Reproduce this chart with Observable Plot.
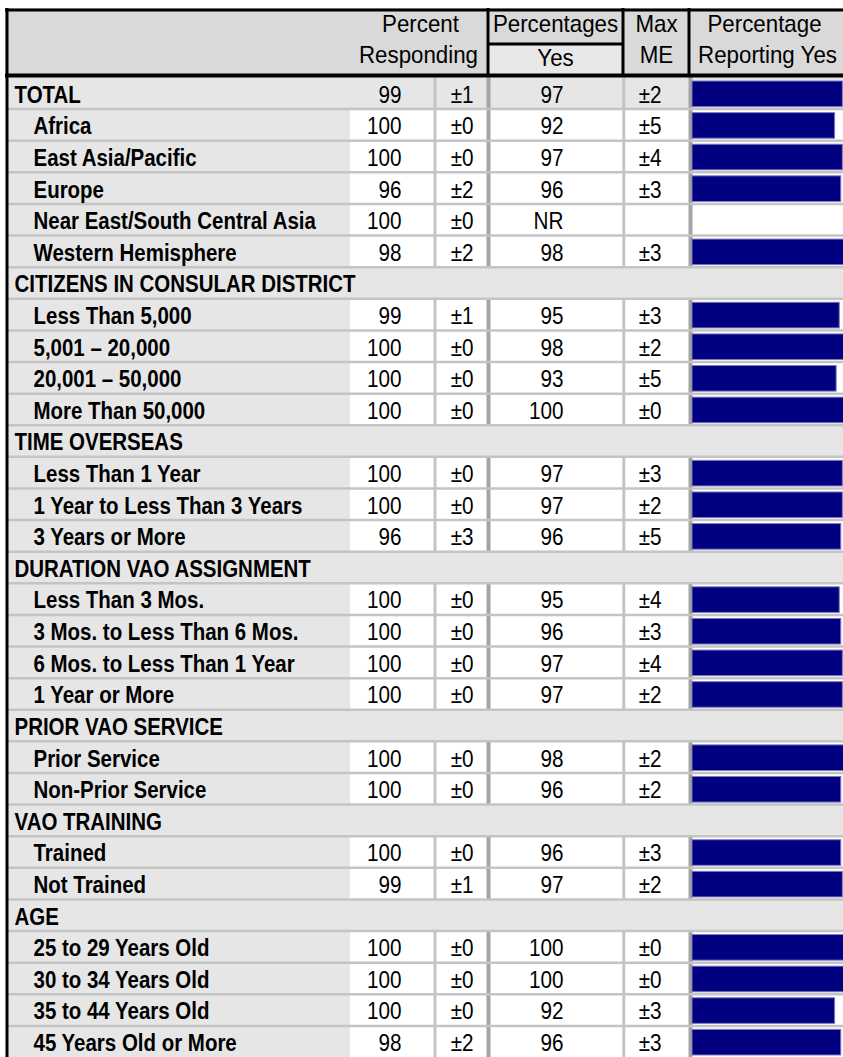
<!DOCTYPE html>
<html>
<head>
<meta charset="utf-8">
<script src="https://cdn.jsdelivr.net/npm/d3@7"></script>
<script src="https://cdn.jsdelivr.net/npm/@observablehq/plot@0.6"></script>
<style>
  html, body { margin: 0; padding: 0; background: #fff; overflow: hidden; }
  #chart svg { display: block; }
</style>
</head>
<body>
<div id="chart"></div>
<script>
// ---------- data ----------
const labels = [
  "TOTAL", "Africa", "East Asia/Pacific", "Europe", "Near East/South Central Asia", "Western Hemisphere",
  "CITIZENS IN CONSULAR DISTRICT", "Less Than 5,000", "5,001 – 20,000", "20,001 – 50,000", "More Than 50,000",
  "TIME OVERSEAS", "Less Than 1 Year", "1 Year to Less Than 3 Years", "3 Years or More",
  "DURATION VAO ASSIGNMENT", "Less Than 3 Mos.", "3 Mos. to Less Than 6 Mos.", "6 Mos. to Less Than 1 Year", "1 Year or More",
  "PRIOR VAO SERVICE", "Prior Service", "Non-Prior Service",
  "VAO TRAINING", "Trained", "Not Trained",
  "AGE", "25 to 29 Years Old", "30 to 34 Years Old", "35 to 44 Years Old", "45 Years Old or More"
];
const rowTypes = [
  "total", "item", "item", "item", "item", "item",
  "section", "item", "item", "item", "item",
  "section", "item", "item", "item",
  "section", "item", "item", "item", "item",
  "section", "item", "item",
  "section", "item", "item",
  "section", "item", "item", "item", "item"
];
const percentResponding = [99, 100, 100, 96, 100, 98, null, 99, 100, 100, 100, null, 100, 100, 96, null, 100, 100, 100, 100, null, 100, 100, null, 100, 99, null, 100, 100, 100, 98];
const respondingME      = [1, 0, 0, 2, 0, 2, null, 1, 0, 0, 0, null, 0, 0, 3, null, 0, 0, 0, 0, null, 0, 0, null, 0, 1, null, 0, 0, 0, 2];
const percentYes        = [97, 92, 97, 96, null, 98, null, 95, 98, 93, 100, null, 97, 97, 96, null, 95, 96, 97, 97, null, 98, 96, null, 96, 97, null, 100, 100, 92, 96];
const yesME             = [2, 5, 4, 3, null, 3, null, 3, 2, 5, 0, null, 3, 2, 5, null, 4, 3, 4, 2, null, 2, 2, null, 3, 2, null, 0, 0, 3, 3];
const notReported = "NR";
const headerTexts = [
  ["Percent", "Responding"],
  ["Percentages", "Yes"],
  ["Max", "ME"],
  ["Percentage", "Reporting Yes"]
];

const rows = labels.map((label, i) => ({
  i, label, type: rowTypes[i],
  resp: percentResponding[i], respME: respondingME[i],
  yes: percentYes[i], yesME: yesME[i]
}));

// ---------- layout helpers (pixel layout -> scale units) ----------
const W = 843, H = 1057;
const X0 = 692, XK = 1.55;          // bar axis: 0% at X0, XK px per %
const Y0 = 77, RH = (H - Y0) / rows.length;
const px = p => (p - X0) / XK;
const py = p => (p - Y0) / RH;

const FONT = "'Liberation Sans', Arial, Helvetica, sans-serif";
const items = rows.filter(d => d.type !== "section");
const y2 = d => d.i + 1;
const yc = d => d.i + 0.5;

const hdr = [
  {t: headerTexts[0][0], x: 420, y: 24}, {t: headerTexts[0][1], x: 418, y: 55},
  {t: headerTexts[1][0], x: 555, y: 24}, {t: headerTexts[1][1], x: 555, y: 58},
  {t: headerTexts[2][0], x: 656, y: 24}, {t: headerTexts[2][1], x: 656, y: 55},
  {t: headerTexts[3][0], x: 764, y: 24}, {t: headerTexts[3][1], x: 767, y: 55}
];

const chart = Plot.plot({
  width: W, height: H, margin: 0,
  x: {type: "linear", domain: [0, 100], range: [X0, X0 + 100 * XK], axis: null},
  y: {type: "linear", domain: [0, rows.length], range: [Y0, H], axis: null},
  style: {fontFamily: FONT, fontSize: "23px", background: "#fff", color: "#000"},
  marks: [
    // header backgrounds
    Plot.rect([0], {x1: px(5), x2: px(W), y1: py(8), y2: py(Y0), fill: "#d9d9d9"}),
    Plot.rect([0], {x1: px(489), x2: px(621), y1: py(44), y2: py(74), fill: "#e8e8e8"}),
    // body backgrounds
    Plot.rect([0], {x1: px(8), x2: px(350), y1: 0, y2: rows.length, fill: "#e6e6e6"}),
    Plot.rect(rows.filter(d => d.type !== "item"), {x1: px(350), x2: px(W), y1: "i", y2, fill: "#e6e6e6"}),
    // vertical cell separators
    Plot.ruleX(items, {x: px(434.5), y1: "i", y2, stroke: "#c4c4c4", strokeWidth: 3}),
    Plot.ruleX(items, {x: px(488), y1: "i", y2, stroke: "#a4a4a4", strokeWidth: 4}),
    Plot.ruleX(items, {x: px(623.3), y1: "i", y2, stroke: "#c4c4c4", strokeWidth: 3}),
    Plot.ruleX(items, {x: px(690), y1: "i", y2, stroke: "#a4a4a4", strokeWidth: 4}),
    // horizontal row separators
    Plot.ruleY(d3.range(1, rows.length), {x1: px(8), x2: px(W), stroke: "#c4c4c4", strokeWidth: 2.5}),
    // bars
    Plot.rect(rows.filter(d => d.yes != null), {
      x1: 0, x2: "yes", y1: "i", y2, insetTop: 4, insetBottom: 2,
      fill: "#000080", stroke: "#7b7bc2", strokeWidth: 1
    }),
    // black frame lines
    Plot.ruleY([py(9.5)], {x1: px(5), x2: px(W), stroke: "#000", strokeWidth: 3}),
    Plot.ruleY([py(75)], {x1: px(5), x2: px(W), stroke: "#000", strokeWidth: 4}),
    Plot.ruleX([px(6.5)], {y1: py(8), y2: rows.length, stroke: "#000", strokeWidth: 3}),
    Plot.ruleX([px(487.5), px(622.5), px(688.5)], {y1: py(8), y2: py(77), stroke: "#000", strokeWidth: 3}),
    Plot.ruleY([py(43.5)], {x1: px(487), x2: px(624), stroke: "#000", strokeWidth: 3}),
    // header text
    Plot.text(hdr, {x: d => px(d.x), y: d => py(d.y), text: "t", fill: "#000", fontSize: 24, fontWeight: 500}),
    // row labels
    Plot.text(rows, {
      x: d => px(d.type === "item" ? 33 : 14), y: yc, text: "label",
      textAnchor: "start", dy: 2, fontWeight: "bold", fill: "#000"
    }),
    // numbers
    Plot.text(items, {x: px(401), y: yc, text: d => String(d.resp), textAnchor: "end", dy: 2, fill: "#000"}),
    Plot.text(items, {x: px(473), y: yc, text: d => "±" + d.respME, textAnchor: "end", dy: 2, fill: "#000"}),
    Plot.text(items, {x: px(563), y: yc, text: d => d.yes == null ? notReported : String(d.yes), textAnchor: "end", dy: 2, fill: "#000"}),
    Plot.text(items.filter(d => d.yesME != null), {x: px(661), y: yc, text: d => "±" + d.yesME, textAnchor: "end", dy: 2, fill: "#000"})
  ]
});

// condense glyphs horizontally (narrow type face look), anchored at each text's own position
chart.querySelectorAll("text").forEach(t => {
  const g = t.closest("[font-weight]");
  const w = g ? g.getAttribute("font-weight") : null;
  const sx = w === "bold" ? 0.89 : w === "500" ? 0.93 : 0.9;
  const tr = t.getAttribute("transform") || "";
  t.setAttribute("transform", tr + ` scale(${sx},1)`);
});

document.getElementById("chart").append(chart);
</script>
</body>
</html>
